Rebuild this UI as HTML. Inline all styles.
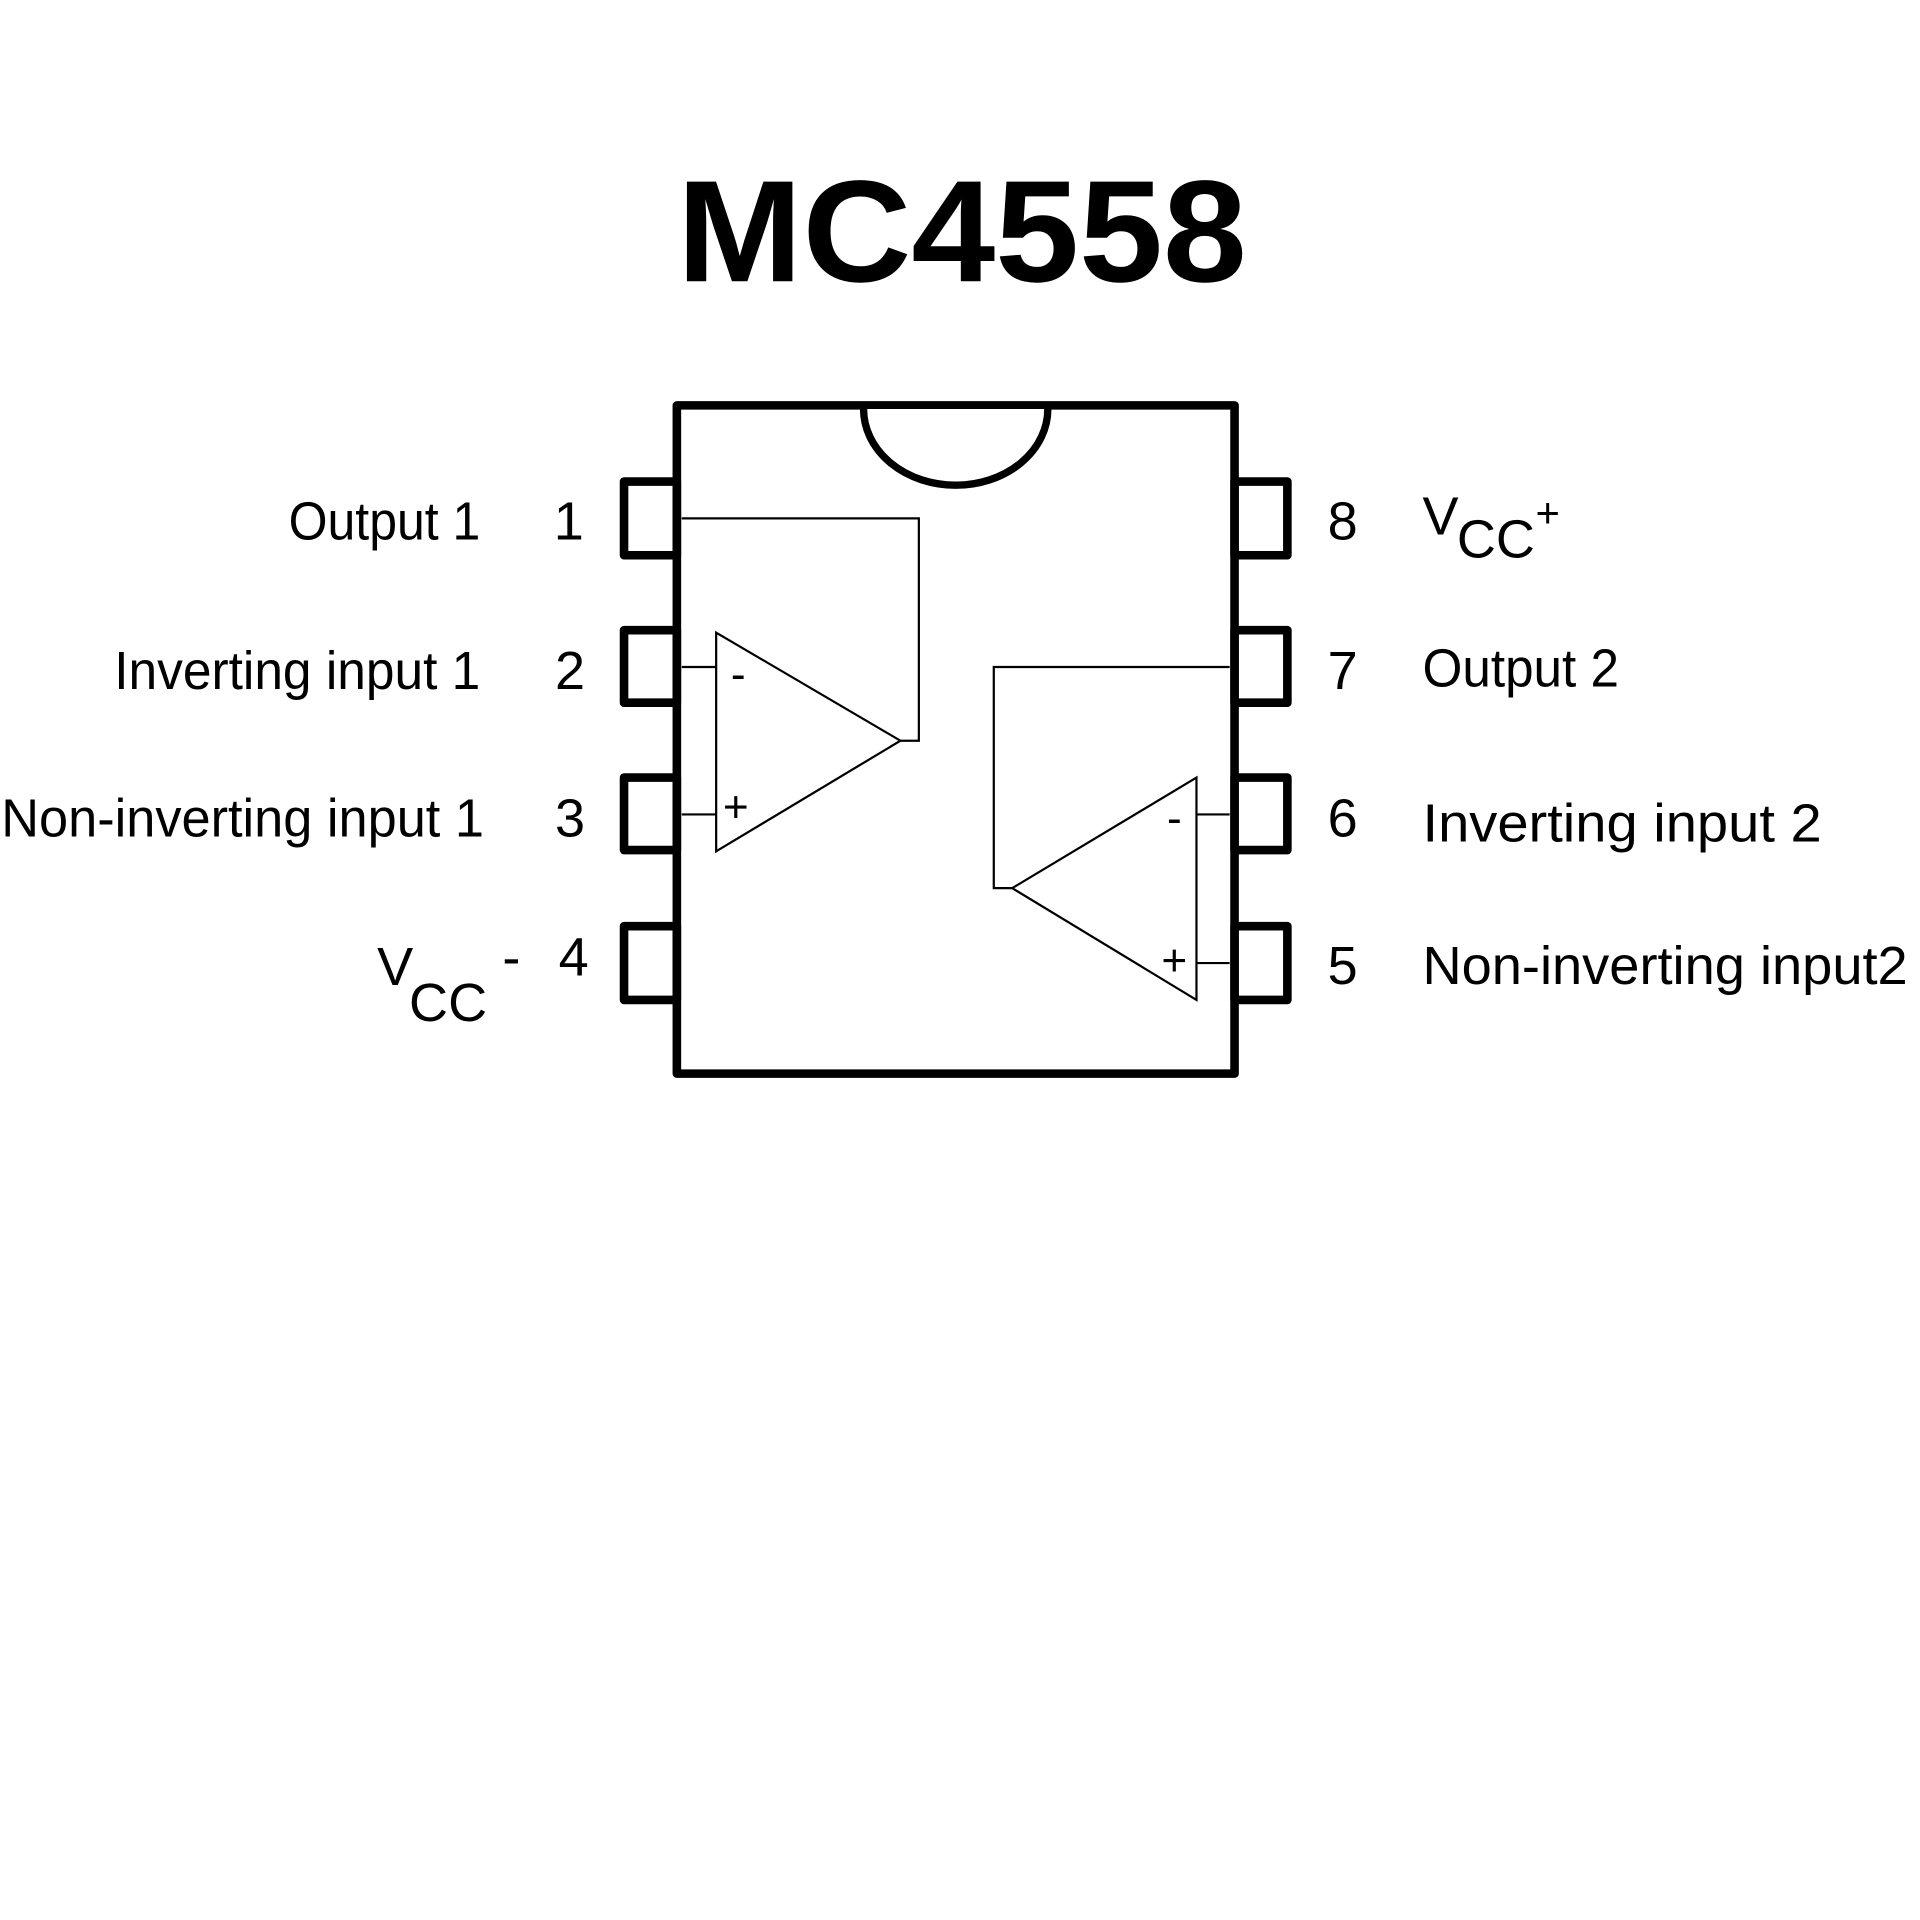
<!DOCTYPE html>
<html><head><meta charset="utf-8"><style>
html,body{margin:0;padding:0;background:#fff;width:1920px;height:1920px;overflow:hidden}
svg{display:block}
text{font-family:"Liberation Sans",Arial,sans-serif;fill:#000}
</style></head><body>
<svg width="1920" height="1920" viewBox="0 0 1563 1563" xmlns="http://www.w3.org/2000/svg">
<rect width="1563" height="1563" fill="#fff"/>
<g transform="translate(-2,-1)">
<text x="785" y="230" text-anchor="middle" font-size="118" font-weight="bold" textLength="464" lengthAdjust="spacingAndGlyphs">MC4558</text>
<g fill="none" stroke="#000" stroke-width="7" stroke-linejoin="round">
<rect x="553" y="331" width="454" height="544"/>
<rect x="510" y="393" width="43" height="60"/>
<rect x="510" y="514" width="43" height="59"/>
<rect x="510" y="634" width="43" height="59"/>
<rect x="510" y="755" width="43" height="60"/>
<rect x="1007" y="393" width="43" height="60"/>
<rect x="1007" y="514" width="43" height="59"/>
<rect x="1007" y="634" width="43" height="59"/>
<rect x="1007" y="755" width="43" height="60"/>
</g>
<path d="M705 334 A75 62 0 0 0 855 334" fill="#fff" stroke="#000" stroke-width="6"/>
<g fill="none" stroke="#000" stroke-width="1.8">
<polygon points="585,516 585,694 735,604"/>
<polyline points="557,544 585,544"/>
<polyline points="557,664 585,664"/>
<polyline points="735,604 750,604 750,423 557,423"/>
<polygon points="976,634 976,815 826,724"/>
<polyline points="976,664 1003,664"/>
<polyline points="976,785 1003,785"/>
<polyline points="826,724 811,724 811,544 1003,544"/>
</g>
<g font-size="36">
<text x="603" y="562" text-anchor="middle">-</text>
<text x="601" y="670" text-anchor="middle">+</text>
<text x="958" y="679" text-anchor="middle">-</text>
<text x="958" y="795" text-anchor="middle">+</text>
</g>
<g font-size="44">
<text x="237" y="440" textLength="156" lengthAdjust="spacingAndGlyphs">Output 1</text>
<text x="95" y="562" textLength="298" lengthAdjust="spacingAndGlyphs">Inverting input 1</text>
<text x="3" y="682" textLength="393" lengthAdjust="spacingAndGlyphs">Non-inverting input 1</text>
<text x="465" y="440" text-anchor="middle">1</text>
<text x="466" y="562" text-anchor="middle">2</text>
<text x="466" y="682" text-anchor="middle">3</text>
<text x="469" y="795" text-anchor="middle">4</text>
<text x="309" y="803">V</text>
<text x="335" y="832">CC</text>
<text x="411" y="795">-</text>
<text x="1095" y="440" text-anchor="middle">8</text>
<text x="1095" y="562" text-anchor="middle">7</text>
<text x="1095" y="682" text-anchor="middle">6</text>
<text x="1095" y="802" text-anchor="middle">5</text>
<text x="1160" y="436">V</text>
<text x="1188" y="455">CC</text>
<text x="1252" y="430" font-size="34">+</text>
<text x="1160" y="560" textLength="160" lengthAdjust="spacingAndGlyphs">Output 2</text>
<text x="1160" y="686" textLength="325" lengthAdjust="spacingAndGlyphs">Inverting input 2</text>
<text x="1160" y="802" textLength="395" lengthAdjust="spacingAndGlyphs">Non-inverting input2</text>
</g>
</g>
</svg>
</body></html>
